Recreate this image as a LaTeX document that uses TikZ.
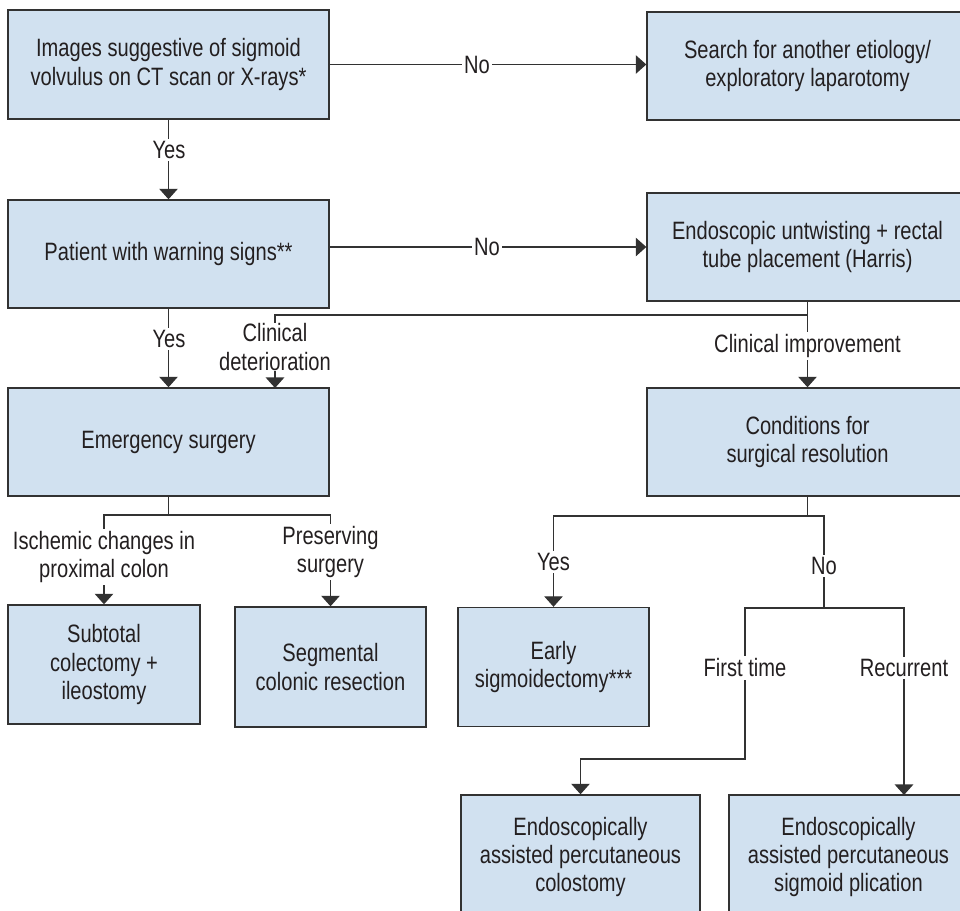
\documentclass[tikz,border=0pt]{standalone}
\usepackage{fontspec}
\setmainfont{Liberation Sans}[FakeStretch=0.8]
\usepackage{xcolor}
\usetikzlibrary{arrows.meta}

\definecolor{boxblue}{RGB}{209,225,240}
\definecolor{linegray}{RGB}{50,50,50}
\definecolor{textgray}{RGB}{35,31,32}

\tikzset{
  box/.style={draw=linegray, fill=boxblue, line width=0.8pt, align=center,
    text=textgray, inner sep=0pt, font=\fontsize{14.3}{16}\selectfont},
  lbl/.style={fill=white, align=center, text=textgray, inner sep=1.5pt,
    font=\fontsize{14.3}{16}\selectfont},
  link/.style={draw=linegray, line width=0.8pt},
  arr/.style={link, -{Triangle[width=10.5pt,length=6pt]}}
}

\begin{document}
\begin{tikzpicture}[x=0.02cm,y=-0.02cm]
\useasboundingbox (0,0) rectangle (960,910);
\clip (0,0) rectangle (960,910);

% First row
\node[box, minimum width=6.42cm, minimum height=2.18cm] (images) at (168.5,64.5)
  {Images suggestive of sigmoid\\volvulus on CT scan or X-rays*};
\node[box, minimum width=6.42cm, minimum height=2.16cm] (search) at (807.5,66)
  {Search for another etiology/\\exploratory laparotomy};

% Second row
\node[box, minimum width=6.42cm, minimum height=2.16cm] (warning) at (168.5,254)
  {Patient with warning signs**};
\node[box, minimum width=6.42cm, minimum height=2.16cm] (untwist) at (807.5,247)
  {Endoscopic untwisting + rectal\\tube placement (Harris)};

% Third row
\node[box, minimum width=6.42cm, minimum height=2.16cm] (emergency) at (168.5,442)
  {Emergency surgery};
\node[box, minimum width=6.42cm, minimum height=2.16cm] (conditions) at (807.5,442)
  {Conditions for\\surgical resolution};

% Fourth row
\node[box, minimum width=3.84cm, minimum height=2.38cm] (subtotal) at (104,664.5)
  {Subtotal\\colectomy +\\ileostomy};
\node[box, minimum width=3.82cm, minimum height=2.4cm] (segmental) at (330.5,667)
  {Segmental\\colonic resection};
\node[box, minimum width=3.82cm, minimum height=2.38cm] (early) at (553.5,667)
  {Early\\sigmoidectomy***};

% Last row (cut off at the bottom)
\node[box, minimum width=4.78cm, minimum height=2.48cm] (colostomy) at (580.5,857)
  {Endoscopically\\assisted percutaneous\\colostomy};
\node[box, minimum width=4.78cm, minimum height=2.48cm] (plication) at (848.5,857)
  {Endoscopically\\assisted percutaneous\\sigmoid plication};

% Images -> search / warning
\draw[arr] (images.east) -- (images.east -| search.west);
\node[lbl] (no1) at (477,65) {No};
\draw[arr] (images.south) -- (warning.north);
\node[lbl] (yes1) at (169,150) {Yes};

% Warning -> untwisting / emergency
\draw[arr] (untwist.west -| warning.east) -- (untwist.west);
\node[lbl] (no2) at (487,247) {No};
\draw[arr] (warning.south) -- (emergency.north);
\node[lbl] (yes2) at (169,339) {Yes};

% Untwisting -> deterioration / improvement
\coordinate (split) at (807.5,315);
\draw[link] (untwist.south) -- (split);
\draw[arr] (split) -- (275,315) -- (275,388);
\node[lbl, inner sep=0.5pt] (deter) at (275,347) {Clinical\\deterioration};
\draw[arr] (split) -- (conditions.north);
\node[lbl] (improve) at (807.5,346) {Clinical improvement};

% Emergency surgery branches
\coordinate (esplit) at (168.5,515);
\draw[link] (emergency.south) -- (esplit);
\draw[arr] (esplit) -- (104,515) -- (subtotal.north);
\draw[arr] (esplit) -- (330.5,515) -- (segmental.north);
\node[lbl] (ischemic) at (104,557) {Ischemic changes in\\proximal colon};
\node[lbl] (preserve) at (330.5,552) {Preserving\\surgery};

% Conditions branches
\coordinate (csplit) at (807.5,516);
\draw[link] (conditions.south) -- (csplit);
\draw[arr] (csplit) -- (553.5,516) -- (early.north);
\node[lbl] (yes3) at (553.5,562) {Yes};
\coordinate (nosplit) at (824,608);
\draw[link] (csplit) -- (824,516) -- (nosplit);
\node[lbl] (no3) at (824,566) {No};

% No: first time / recurrent
\draw[arr] (nosplit) -- (745,608) -- (745,759) -- (580.5,759) -- (colostomy.north);
\node[lbl] (first) at (745,668) {First time};
\draw[arr] (nosplit) -- (904,608) -- (904,795);
\node[lbl] (recur) at (904,668) {Recurrent};
\end{tikzpicture}
\end{document}
